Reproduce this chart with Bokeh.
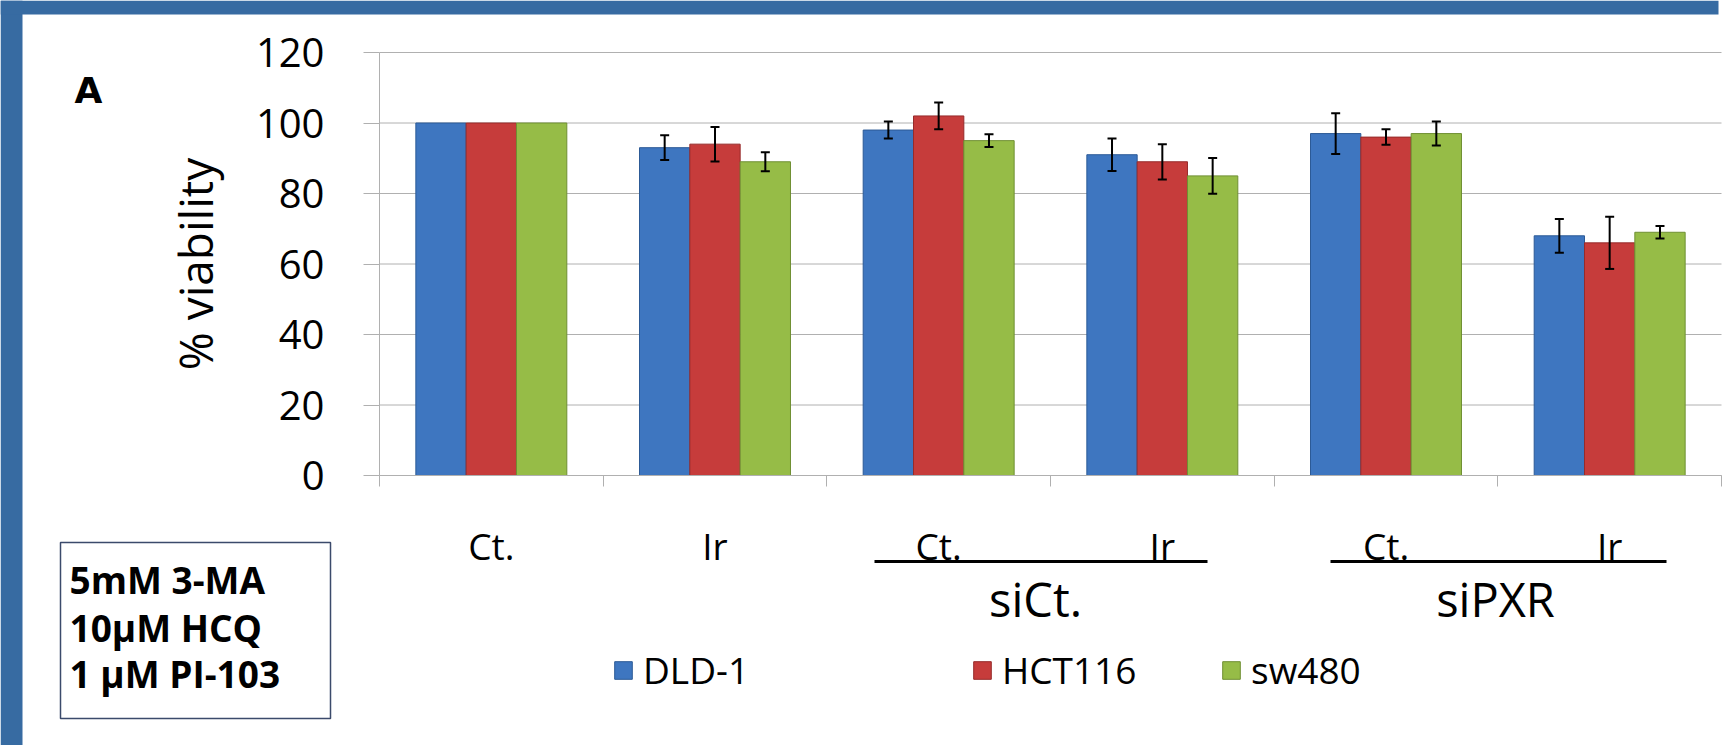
from bokeh.plotting import figure
from bokeh.models import (Range1d, LinearAxis, FixedTicker,
                          ColumnDataSource, Whisker, TeeHead, Legend, LegendItem, Label,
                          Arrow, BoxAnnotation)
from bokeh.transform import dodge
from bokeh.embed import file_html
from bokeh.resources import INLINE

# ---------------- data ----------------
groups = ["", "", "siCt.", "siCt.", "siPXR", "siPXR"]
conditions = ["Ct.", "Ir", "Ct.", "Ir", "Ct.", "Ir"]
series_names = ["DLD-1", "HCT116", "sw480"]
dld1 = [100, 93, 98, 91, 97, 68]
dld1_err = [0, 3.5, 2.4, 4.6, 5.8, 4.8]
hct116 = [100, 94, 102, 89, 96, 66]
hct116_err = [0, 4.9, 3.8, 5.0, 2.2, 7.4]
sw480 = [100, 89, 95, 85, 97, 69]
sw480_err = [0, 2.7, 1.8, 5.1, 3.4, 1.8]
y_ticks = [0, 20, 40, 60, 80, 100, 120]
y_title = "% viability"
panel_letter = "A"
group_names = ["siCt.", "siPXR"]
note_lines = ["5mM 3-MA", "10µM HCQ", "1 µM PI-103"]

# ---------------- style ----------------
FONT = "Open Sans"
GRID = "#b0b0b0"
FILLS = ["#3e76c0", "#c63c3b", "#96bc47"]
LINES = ["#2c5a96", "#962b2b", "#6f8f33"]
FRAME_BLUE = "#376ba2"

W, H = 1724, 745
FL, FR, FT, FB = 379, 1721, 52, 475   # plot area in page pixels
n = len(conditions)
def fx(px):
    return (px - FL) / ((FR - FL) / float(n))
def fy(py):
    return (FB - py) / ((FB - FT) / 120.0)

xpos = [i + 0.5 for i in range(n)]

p = figure(width=W, height=H, x_range=Range1d(fx(0), fx(W)), y_range=Range1d(fy(H), fy(0)),
           output_backend="svg", toolbar_location=None,
           x_axis_location=None, y_axis_location=None,
           min_border=0, min_border_left=0, min_border_right=0, min_border_top=0,
           min_border_bottom=0, outline_line_color=None,
           background_fill_color="white", border_fill_color="white")
p.grid.grid_line_color = None

# blue frame stripes (left and top)
p.quad(left=[fx(0), fx(0)], right=[fx(22), fx(1718)], top=[fy(0), fy(0)], bottom=[fy(H), fy(14)],
       fill_color=FRAME_BLUE, line_color=None, level="underlay")

# horizontal gridlines at the y ticks
p.segment(x0=0, x1=n, y0=y_ticks, y1=y_ticks, line_color=GRID, line_width=1, level="underlay")

# y axis
ya = LinearAxis(fixed_location=0, bounds=(0, 120), ticker=FixedTicker(ticks=y_ticks),
                axis_line_color=GRID, major_tick_line_color=GRID, major_tick_out=16,
                major_tick_in=0, minor_tick_line_color=None, major_label_standoff=39,
                major_label_text_font=FONT, major_label_text_font_size="40px",
                major_label_text_color="black",
                axis_label=y_title, axis_label_text_font=FONT, axis_label_text_font_size="46px",
                axis_label_text_font_style="normal", axis_label_text_color="black",
                axis_label_standoff=27)
p.add_layout(ya, "left")

# category boundary ticks
bax = LinearAxis(fixed_location=0, bounds=(0, n), ticker=FixedTicker(ticks=list(range(n + 1))),
                 major_label_overrides={i: "" for i in range(n + 1)},
                 major_tick_out=11, major_tick_in=0, minor_tick_line_color=None,
                 axis_line_color=GRID, major_tick_line_color=GRID, major_label_standoff=0)
p.add_layout(bax, "below")

# category labels
cax = LinearAxis(fixed_location=0, bounds=(0, n), ticker=FixedTicker(ticks=xpos),
                 major_label_overrides={x: c for x, c in zip(xpos, conditions)},
                 axis_line_color=None, major_tick_line_color=None, minor_tick_line_color=None,
                 major_label_text_font=FONT, major_label_text_font_size="37px",
                 major_label_text_color="black", major_label_standoff=38)
p.add_layout(cax, "below")

# bars + error bars
vals = [dld1, hct116, sw480]
errs = [dld1_err, hct116_err, sw480_err]
offsets = [-0.225, 0.0, 0.225]
legend_x = [612, 971, 1220]
for i, name in enumerate(series_names):
    src = ColumnDataSource(dict(x=xpos, top=vals[i]))
    r = p.vbar(x=dodge("x", offsets[i]), top="top", bottom=0, width=0.225, source=src,
               fill_color=FILLS[i], line_color=LINES[i], line_width=1)
    keep = [k for k in range(n) if errs[i][k] > 0]
    wsrc = ColumnDataSource(dict(
        x=[xpos[k] for k in keep],
        upper=[vals[i][k] + errs[i][k] for k in keep],
        lower=[vals[i][k] - errs[i][k] for k in keep]))
    w = Whisker(base=dodge("x", offsets[i]), upper="upper", lower="lower",
                source=wsrc, line_color="black", line_width=2, level="overlay",
                upper_head=TeeHead(size=9, line_width=2, line_color="black"),
                lower_head=TeeHead(size=9, line_width=2, line_color="black"))
    p.add_layout(w)
    lg = Legend(items=[LegendItem(label=name, renderers=[r])],
                location=(legend_x[i], H - 695), orientation="horizontal",
                background_fill_alpha=0, border_line_color=None,
                label_text_font=FONT, label_text_font_size="37px", label_text_color="black",
                glyph_width=22, glyph_height=22, label_standoff=9,
                padding=0, margin=0, spacing=0)
    p.add_layout(lg)

# group labels + underlines
for g, gpx in zip(group_names, [1035, 1495]):
    p.add_layout(Label(x=fx(gpx), y=fy(598), text=g, text_font=FONT, text_font_size="47px",
                       text_align="center", text_baseline="middle", text_color="black"))
for a, b in [(874, 1207), (1330, 1666)]:
    p.add_layout(Arrow(x_start=fx(a), y_start=fy(561), x_end=fx(b), y_end=fy(561),
                       end=None, line_width=3, line_color="black"))

# panel letter
p.add_layout(Label(x=fx(88), y=fy(90), text=panel_letter,
                   text_font="DejaVu Sans", text_font_size="36px", text_font_style="bold",
                   text_align="center", text_baseline="middle", text_color="black"))

# note box
p.add_layout(BoxAnnotation(left=fx(60), right=fx(330), top=fy(542), bottom=fy(718),
                           fill_color="white", fill_alpha=1,
                           line_color="#3b4a6b", line_width=1.5, line_alpha=1))
for j, t in enumerate(note_lines):
    p.add_layout(Label(x=fx(69), y=fy([579, 627, 673][j]), text=t,
                       text_font=FONT, text_font_size="37px", text_font_style="bold",
                       text_align="left", text_baseline="middle", text_color="black"))

open("out.html", "w").write(file_html(p, INLINE))
